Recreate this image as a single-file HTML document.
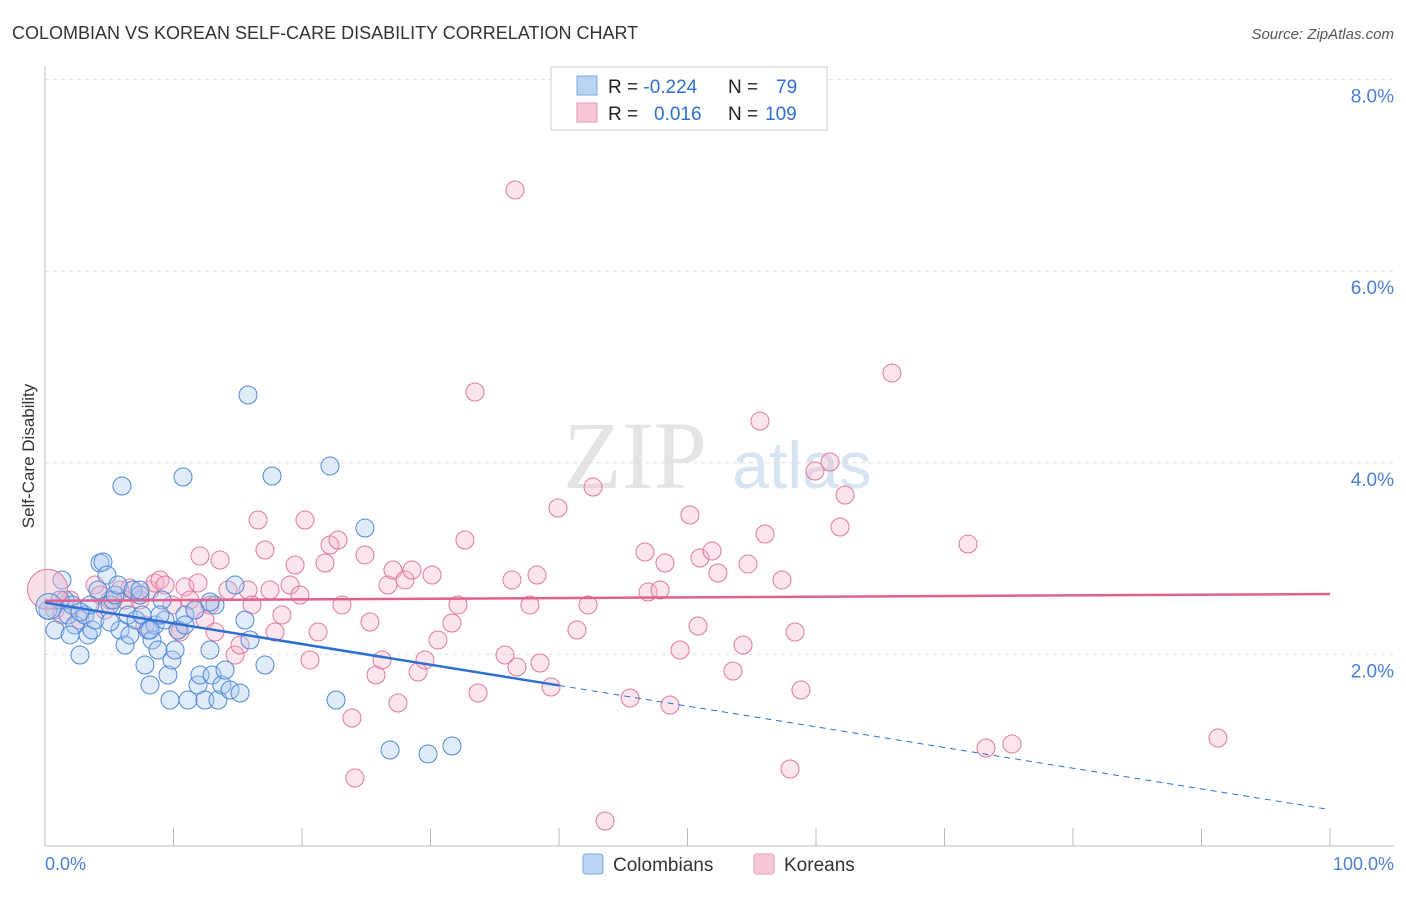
<!DOCTYPE html>
<html><head><meta charset="utf-8"><style>
body{margin:0;background:#fff;font-family:"Liberation Sans",sans-serif}
</style></head><body>
<svg id="c" width="1406" height="892" xmlns="http://www.w3.org/2000/svg">
<text x="12" y="39" font-size="18" fill="#333">COLOMBIAN VS KOREAN SELF-CARE DISABILITY CORRELATION CHART</text>
<text x="1394" y="39" font-size="15" fill="#555" font-style="italic" text-anchor="end">Source: ZipAtlas.com</text>
<text x="635" y="488" font-size="96" fill="#e4e4e4" font-family="Liberation Serif" text-anchor="middle">ZIP</text>
<text x="802" y="488" font-size="66" fill="#d6e4f4" text-anchor="middle">atlas</text>
<g id="grid"></g><g id="pts"></g><g id="lines"></g>
<text transform="translate(34,456) rotate(-90)" font-size="17" fill="#333" text-anchor="middle">Self-Care Disability</text>
<text x="45" y="870" font-size="18" fill="#4a7fd4">0.0%</text>
<text x="1394" y="870" font-size="18" fill="#4a7fd4" text-anchor="end">100.0%</text>
<g>
<rect x="551" y="67" width="276" height="63" fill="#fff" stroke="#ccc"/>
<rect x="577" y="76" width="20" height="19" fill="#bcd4f4" stroke="#7aa6e0"/>
<rect x="577" y="103" width="20" height="19" fill="#f8c8d6" stroke="#e89ab0"/>
<text x="608" y="93" font-size="19" fill="#222">R = <tspan fill="#2f6fd0">-0.224</tspan><tspan x="728">N = </tspan><tspan x="776" fill="#2f6fd0">79</tspan></text>
<text x="608" y="120" font-size="19" fill="#222">R = <tspan x="654" fill="#2f6fd0">0.016</tspan><tspan x="728">N = </tspan><tspan x="765" fill="#2f6fd0">109</tspan></text>
</g>
<g>
<rect x="583" y="854" width="20" height="20" rx="3" fill="#bcd4f4" stroke="#7aa6e0"/>
<text x="613" y="871" font-size="19" fill="#333">Colombians</text>
<rect x="754" y="854" width="20" height="20" rx="3" fill="#f8c8d6" stroke="#e89ab0"/>
<text x="784" y="871" font-size="19" fill="#333">Koreans</text>
</g>
</svg>
<script>
const yTicks=[2,4,6,8];
const yTickLabels=["2.0%","4.0%","6.0%","8.0%"];
const xTicks=[0,10,20,30,40,50,60,70,80,90,100];
const colPx=[[48,610],[55,630],[62,580],[65,600],[68,615],[72,605],[75,625],[80,655],[85,615],[88,635],[92,630],[95,620],[98,590],[100,563],[103,562],[107,575],[110,605],[113,600],[115,595],[118,585],[120,630],[122,486],[125,645],[128,615],[130,635],[133,590],[136,620],[140,595],[142,615],[145,665],[148,630],[150,685],[152,640],[155,625],[158,650],[162,600],[165,620],[168,675],[170,700],[172,660],[175,650],[178,630],[183,477],[185,615],[188,700],[195,610],[198,685],[200,675],[205,700],[210,650],[212,675],[215,605],[218,700],[222,685],[225,670],[230,690],[235,585],[240,693],[245,620],[248,395],[250,640],[265,665],[272,476],[330,466],[336,700],[365,528],[390,750],[428,754],[452,746],[60,600],[70,635],[90,605],[140,590],[160,615],[185,625],[210,602],[150,630],[80,612],[110,622]];
const korPx=[[55,610],[62,615],[70,600],[80,620],[95,585],[100,595],[105,610],[110,600],[120,590],[125,600],[130,588],[140,600],[145,625],[150,590],[155,583],[160,580],[165,585],[172,605],[178,630],[180,632],[185,587],[190,600],[195,610],[198,583],[200,556],[205,620],[210,605],[215,632],[220,560],[228,590],[235,655],[240,645],[248,590],[252,605],[258,520],[265,550],[270,590],[275,632],[282,615],[290,585],[295,565],[300,595],[305,520],[310,660],[318,632],[325,563],[330,545],[338,540],[342,605],[352,718],[355,778],[365,555],[370,622],[376,675],[382,660],[388,585],[393,570],[398,703],[405,580],[412,570],[418,672],[425,660],[432,575],[438,640],[452,623],[458,605],[465,540],[475,392],[478,693],[505,655],[512,580],[515,190],[517,667],[530,605],[537,575],[540,663],[551,687],[558,508],[577,630],[588,605],[593,487],[605,821],[630,698],[645,552],[648,592],[660,590],[665,563],[670,705],[680,650],[690,515],[698,626],[700,558],[712,551],[718,573],[733,671],[743,645],[748,564],[760,421],[765,534],[782,580],[790,769],[795,632],[801,690],[815,471],[830,462],[840,527],[845,495],[892,373],[968,544],[986,748],[1012,744],[1218,738]];
const colX=colPx.map(p=>+((p[0]-45)/12.85).toFixed(2));
const colY=colPx.map(p=>+((846-p[1])/95.8).toFixed(3));
const korX=korPx.map(p=>+((p[0]-45)/12.85).toFixed(2));
const korY=korPx.map(p=>+((846-p[1])/95.8).toFixed(3));
const colTrend=[2.54,-2.16];
const korTrend=[2.56,0.07];
const colSolidEnd=40;
const X=v=>45+v*12.85, Y=v=>846-v*95.8;
const NS="http://www.w3.org/2000/svg";
function mk(t,a,p){const e=document.createElementNS(NS,t);for(const k in a)e.setAttribute(k,a[k]);p.appendChild(e);return e;}
const g=document.getElementById('grid');
yTicks.forEach((t,i)=>{
 const l=mk('line',{x1:45,x2:1394,y1:Y(t),y2:Y(t),stroke:'#ddd','stroke-dasharray':'4,4'},g);
 
 
 const tx=mk('text',{x:1394,y:Y(t)+23,'font-size':19,fill:'#4a7fd4','text-anchor':'end'},g);
 tx.textContent=yTickLabels[i];
 
 
});
const ax=mk('line',{x1:45,x2:1394,y1:846,y2:846,stroke:'#bbb'},g);


const ay=mk('line',{x1:45,x2:45,y1:66,y2:846,stroke:'#bbb'},g);


xTicks.forEach(t=>{const l=mk('line',{x1:X(t),x2:X(t),y1:828,y2:846,stroke:'#bbb'},g);
 
 });
const P=document.getElementById('pts');
function dots(xs,ys,fill,stroke,name){xs.forEach((x,i)=>{
 const c=mk('circle',{cx:X(x),cy:Y(ys[i]),r:9,fill:fill,'fill-opacity':0.35,stroke:stroke,'stroke-width':1},P);
 
 });}
dots(korX,korY,'#f5b5c8','#e07a98','korean-point');
dots(colX,colY,'#a9c8f0','#4f88d8','colombian-point');
const big=mk('circle',{cx:X(0.2),cy:Y(2.68),r:20,fill:'#f0b0c4','fill-opacity':0.4,stroke:'#e07a98'},P);


const big2=mk('circle',{cx:X(0.3),cy:Y(2.5),r:13,fill:'#a9c8f0','fill-opacity':0.4,stroke:'#4f88d8'},P);


const L=document.getElementById('lines');
const ct=v=>colTrend[0]+colTrend[1]*v/100, kt=v=>korTrend[0]+korTrend[1]*v/100;
const a=mk('line',{x1:X(0),y1:Y(ct(0)),x2:X(colSolidEnd),y2:Y(ct(colSolidEnd)),stroke:'#2f6fd0','stroke-width':2.5},L);


const b=mk('line',{x1:X(colSolidEnd),y1:Y(ct(colSolidEnd)),x2:X(100),y2:Y(ct(100)),stroke:'#2f6fd0','stroke-width':1,'stroke-dasharray':'6,5'},L);


const k=mk('line',{x1:X(0),y1:Y(kt(0)),x2:X(100),y2:Y(kt(100)),stroke:'#e06090','stroke-width':2.5},L);


</script>
</body></html>
